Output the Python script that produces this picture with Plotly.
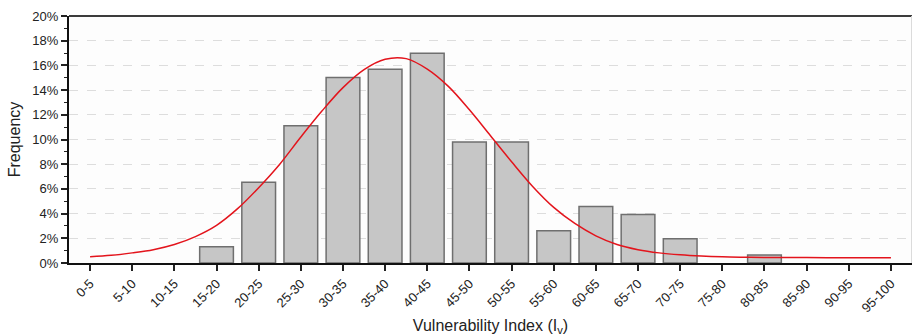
import plotly.graph_objects as go

# Vulnerability index classes
classes = ["0-5", "5-10", "10-15", "15-20", "20-25", "25-30", "30-35", "35-40",
           "40-45", "45-50", "50-55", "55-60", "60-65", "65-70", "70-75", "75-80",
           "80-85", "85-90", "90-95", "95-100"]

# Relative frequency of each class (%)
freq_pct = [0.0, 0.0, 0.0, 1.31, 6.54, 11.11, 15.03, 15.69,
            16.99, 9.80, 9.80, 2.61, 4.58, 3.92, 1.96, 0.0,
            0.65, 0.0, 0.0, 0.0]

# Fitted distribution curve, sampled every half class (%)
fit_pos = [0, 0.5, 1, 1.5, 2, 2.5, 3, 3.5, 4, 4.5, 5, 5.5, 6, 6.5, 7, 7.5,
           8, 8.5, 9, 9.5, 10, 10.5, 11, 11.5, 12, 12.5, 13, 13.5, 14, 14.5,
           15, 15.5, 16, 17, 18, 19]
fit_pct = [0.51, 0.62, 0.82, 1.08, 1.5, 2.14, 3.05, 4.4, 6.1, 8.0, 10.2, 12.3,
           14.2, 15.66, 16.5, 16.55, 15.7, 14.3, 12.4, 10.3, 8.2, 6.2, 4.5, 3.2,
           2.2, 1.5, 1.08, 0.82, 0.66, 0.56, 0.5, 0.47, 0.45, 0.44, 0.43, 0.43]

y_ticks = [0, 2, 4, 6, 8, 10, 12, 14, 16, 18, 20]
y_tick_text = [f"{v}%" for v in y_ticks]

positions = list(range(len(classes)))
font_family = "Liberation Sans, Arial, sans-serif"

# Empty classes get no bar at all (avoids a stray outline on the baseline)
bar_heights = [v if v > 0 else None for v in freq_pct]

fig = go.Figure()

fig.add_trace(go.Bar(
    x=positions,
    y=bar_heights,
    width=0.8,
    marker=dict(color="#c6c6c6", line=dict(color="#6f6f6f", width=1.5)),
    showlegend=False,
))

fig.add_trace(go.Scatter(
    x=fit_pos,
    y=fit_pct,
    mode="lines",
    line=dict(color="#e3141c", width=1.5, shape="spline", smoothing=1.0),
    showlegend=False,
))

fig.update_layout(
    width=912,
    height=336,
    margin=dict(l=69, r=0, t=16, b=73),
    paper_bgcolor="white",
    plot_bgcolor="#fdfdfd",
    font=dict(family=font_family, color="#222222"),
    bargap=0.2,
)

fig.update_xaxes(
    range=[-0.5, 19.5],
    tickmode="array",
    tickvals=positions,
    ticktext=classes,
    tickangle=-45,
    tickfont=dict(size=13, color="#222222"),
    ticks="outside",
    ticklen=6,
    tickwidth=1.5,
    tickcolor="#222222",
    showline=True,
    linecolor="#111111",
    linewidth=2,
    showgrid=False,
    zeroline=False,
    title=dict(text="Vulnerability Index (I<sub>v</sub>)",
               font=dict(size=16, color="#222222"), standoff=6),
)

fig.update_yaxes(
    range=[0, 20],
    tickmode="array",
    tickvals=y_ticks,
    ticktext=y_tick_text,
    tickfont=dict(size=13, color="#222222"),
    ticks="outside",
    ticklen=6,
    tickwidth=1.5,
    tickcolor="#222222",
    minor=dict(dtick=1, ticks="outside", ticklen=3, tickcolor="#222222",
               tickwidth=1.2, showgrid=False),
    showline=True,
    linecolor="#111111",
    linewidth=2,
    showgrid=True,
    gridcolor="#dddddd",
    griddash="dash",
    gridwidth=1,
    zeroline=False,
    title=dict(text="Frequency", font=dict(size=16, color="#222222"), standoff=8),
)

# Frame: dark top edge and a faint right edge
fig.add_shape(type="line", xref="paper", yref="paper", x0=0, x1=1, y0=1, y1=1,
              line=dict(color="#3c3c3c", width=2))
fig.add_shape(type="line", xref="paper", yref="paper", x0=0.9995, x1=0.9995, y0=0, y1=1,
              line=dict(color="#d8d8d8", width=1))

fig.write_html("out.html")
